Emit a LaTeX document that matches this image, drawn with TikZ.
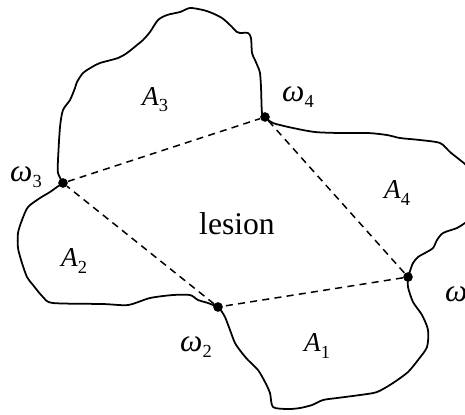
\documentclass[tikz,border=0pt]{standalone}
\usepackage{fontspec}
\setmainfont{Liberation Serif}
\usetikzlibrary{positioning}

\newcommand{\arealbl}[2]{\textit{#1}\raisebox{-3.5pt}{\fontsize{10.5}{12}\selectfont #2}}
\newcommand{\omegalbl}[1]{\textit{ω}\raisebox{-3.5pt}{\fontsize{10.5}{12}\selectfont #1}}

\begin{document}
\begin{tikzpicture}[
    x=0.02cm, y=-0.02cm,
    outline/.style={line width=1pt, line join=round},
    chord/.style={line width=0.85pt, dash pattern=on 4pt off 3pt},
    dot/.style={circle, fill=black, inner sep=0pt, minimum size=5.5pt},
    omg/.style={font=\fontsize{18}{20}\selectfont},
    area/.style={font=\fontsize{15.5}{17}\selectfont},
]
    \useasboundingbox (0,0) rectangle (465,414);
    \clip (0,0) rectangle (465,414);

    % Junction points
    \node[dot] (w4) at (265,117) {};
    \node[dot] (w3) at (63,183) {};
    \node[dot] (w2) at (218,307) {};
    \node[dot] (w1) at (408,277) {};

    % Boundary of the region
    \draw[outline] plot[smooth, tension=0.45] coordinates {(w3.center) (58,173) (58,160) (60,127) (63,110) (70,100) (75,88) (77,82)
        (83,73) (92,67) (100,63) (118,58) (127,53) (137,45) (143,40) (150,32) (158,20) (167,15) (180,12) (190,8)
        (203,10) (212,13) (222,18) (230,25) (237,32) (240,33) (248,33) (251,38) (252,53) (255,60) (258,67)
        (260,73) (261,87) (262,113) (w4.center)};
    \draw[outline] plot[smooth, tension=0.45] coordinates {(w4.center) (273,123) (293,128) (315,132) (340,133) (368,133)
        (387,135) (400,138) (420,140) (440,143) (450,152) (460,160) (467,166) (478,180) (482,200) (478,215)
        (465,223) (457,228) (443,233) (437,240) (433,248) (425,253) (418,257) (413,263) (410,271) (w1.center)};
    \draw[outline] plot[smooth, tension=0.45] coordinates {(w1.center) (408,287) (413,302) (422,315) (428,330) (427,347)
        (418,360) (408,372) (393,383) (377,392) (360,395) (337,398) (323,400) (312,405) (300,408) (288,409)
        (273,407) (270,393) (265,382) (258,370) (248,360) (242,353) (235,343) (230,330) (225,317) (220,309) (w2.center)};
    \draw[outline] plot[smooth, tension=0.45] coordinates {(w2.center) (208,303) (198,300) (190,295) (173,295) (150,298)
        (128,305) (103,304) (53,303) (43,297) (33,285) (27,277) (22,263) (18,248) (18,233) (22,220) (28,207)
        (40,198) (50,192) (57,187) (w3.center)};

    % Chords
    \draw[chord] (w3) -- (w4);
    \draw[chord] (w4) -- (w1);
    \draw[chord] (w1) -- (w2);
    \draw[chord] (w2) -- (w3);

    % Labels
    \node[omg] (l4) at (298,97) {\omegalbl{4}};
    \node[omg] (l3) at (26,177) {\omegalbl{3}};
    \node[omg] (l2) at (196,347) {\omegalbl{2}};
    \node[omg] (l1) at (461,297) {\omegalbl{1}};
    \node[area] (a3) at (155,100) {\arealbl{A}{3}};
    \node[area] (a4) at (397,193) {\arealbl{A}{4}};
    \node[area] (a2) at (74,261) {\arealbl{A}{2}};
    \node[area] (a1) at (317,346) {\arealbl{A}{1}};
    \node[font=\fontsize{18}{20}\selectfont] (lesion) at (237,224) {lesion};
\end{tikzpicture}
\end{document}
